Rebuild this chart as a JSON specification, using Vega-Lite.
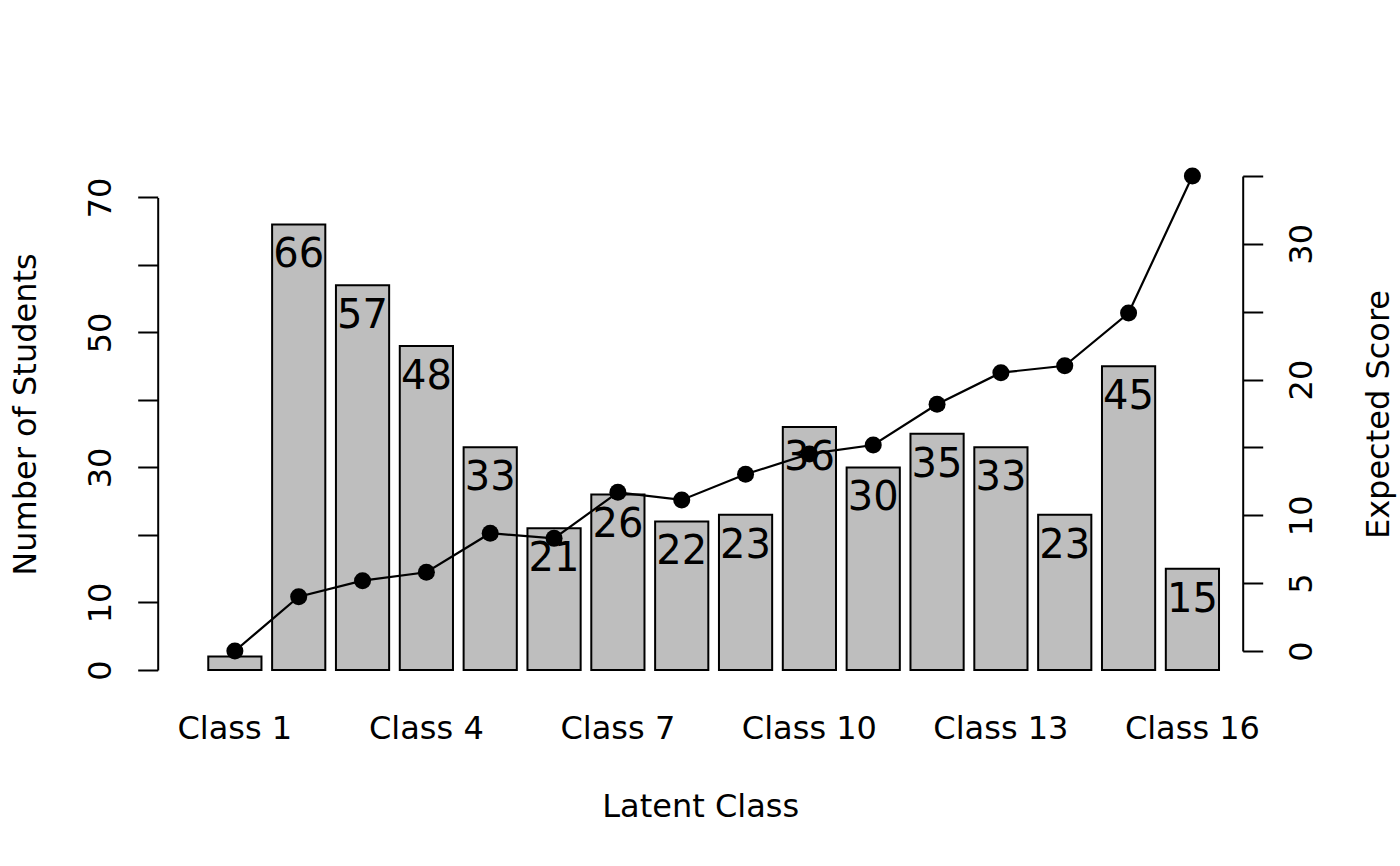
{
  "$schema": "https://vega.github.io/schema/vega-lite/v6.json",
  "width": 1085,
  "height": 494,
  "autosize": {"type": "none"},
  "padding": {"left": 157.7, "top": 176, "right": 157.3, "bottom": 196},
  "background": "white",
  "config": {
    "view": {"stroke": null},
    "font": "DejaVu Sans",
    "axis": {
      "grid": false,
      "labelColor": "black",
      "titleColor": "black",
      "tickColor": "black",
      "domainColor": "black",
      "titleFontWeight": "normal",
      "labelFont": "DejaVu Sans",
      "titleFont": "DejaVu Sans",
      "labelFontSize": 32,
      "titleFontSize": 32,
      "labelOverlap": false,
      "labelFlush": false,
      "labelBound": false
    }
  },
  "data": {
    "values": [
      {"class": "Class 1", "students": 2, "score": 0.0},
      {"class": "Class 2", "students": 66, "score": 4.0},
      {"class": "Class 3", "students": 57, "score": 5.18},
      {"class": "Class 4", "students": 48, "score": 5.8},
      {"class": "Class 5", "students": 33, "score": 8.68},
      {"class": "Class 6", "students": 21, "score": 8.3},
      {"class": "Class 7", "students": 26, "score": 11.69},
      {"class": "Class 8", "students": 22, "score": 11.13},
      {"class": "Class 9", "students": 23, "score": 13.02},
      {"class": "Class 10", "students": 36, "score": 14.52},
      {"class": "Class 11", "students": 30, "score": 15.18},
      {"class": "Class 12", "students": 35, "score": 18.18},
      {"class": "Class 13", "students": 33, "score": 20.51},
      {"class": "Class 14", "students": 23, "score": 21.02},
      {"class": "Class 15", "students": 45, "score": 24.9},
      {"class": "Class 16", "students": 15, "score": 35.0}
    ]
  },
  "encoding": {
    "x": {
      "field": "class",
      "type": "nominal",
      "sort": null,
      "scale": {"paddingInner": 0.1667, "paddingOuter": 0.5817, "align": 0.681},
      "axis": {
        "title": "Latent Class",
        "values": ["Class 1", "Class 4", "Class 7", "Class 10", "Class 13", "Class 16"],
        "domain": false,
        "ticks": false,
        "tickSize": 0,
        "labelAngle": 0,
        "labelAlign": "center",
        "labelBaseline": "alphabetic",
        "labelPadding": 68,
        "titleBaseline": "alphabetic",
        "titleAlign": "center",
        "titleY": 146
      }
    }
  },
  "layer": [
    {
      "encoding": {
        "y": {
          "field": "students",
          "type": "quantitative",
          "scale": {"domain": [0, 73.185], "nice": false, "zero": false},
          "axis": {
            "orient": "left",
            "title": "Number of Students",
            "values": [0, 10, 20, 30, 40, 50, 60, 70],
            "labelExpr": "datum.value == 0 || datum.value % 20 == 10 ? datum.label : ''",
            "tickSize": 20,
            "tickWidth": 2,
            "domainWidth": 2,
            "domainDash": [472.5, 200],
            "labelAngle": -90,
            "labelAlign": "center",
            "labelBaseline": "alphabetic",
            "labelPadding": 27.7,
            "titleAngle": -90,
            "titleAlign": "center",
            "titleBaseline": "alphabetic",
            "titleX": -122,
            "titleY": 238
          }
        }
      },
      "layer": [
        {
          "mark": {"type": "bar", "fill": "#bebebe", "stroke": "black", "strokeWidth": 2}
        },
        {
          "transform": [{"filter": "datum.students > 5"}],
          "mark": {"type": "text", "fontSize": 40, "baseline": "alphabetic", "align": "center", "dy": 43, "color": "black", "font": "DejaVu Sans"},
          "encoding": {"text": {"field": "students", "type": "quantitative"}}
        }
      ]
    },
    {
      "encoding": {
        "y": {
          "field": "score",
          "type": "quantitative",
          "scale": {"domain": [-1.4, 35], "nice": false, "zero": false},
          "axis": {
            "orient": "right",
            "title": "Expected Score",
            "values": [0, 5, 10, 15, 20, 25, 30, 35],
            "labelExpr": "datum.value == 0 || datum.value == 5 || datum.value == 10 || datum.value == 20 || datum.value == 30 ? datum.label : ''",
            "tickSize": 20,
            "tickWidth": 2,
            "domainWidth": 2,
            "domainDash": [0, 19, 475, 200],
            "labelAngle": -90,
            "labelAlign": "center",
            "labelBaseline": "alphabetic",
            "labelPadding": 49,
            "titleAngle": -90,
            "titleAlign": "center",
            "titleBaseline": "alphabetic",
            "titleX": 146,
            "titleY": 238
          }
        }
      },
      "layer": [
        {"mark": {"type": "line", "color": "black", "strokeWidth": 2.2}},
        {"mark": {"type": "circle", "size": 290, "color": "black", "opacity": 1}}
      ]
    }
  ],
  "resolve": {"scale": {"y": "independent"}, "axis": {"y": "independent"}}
}
